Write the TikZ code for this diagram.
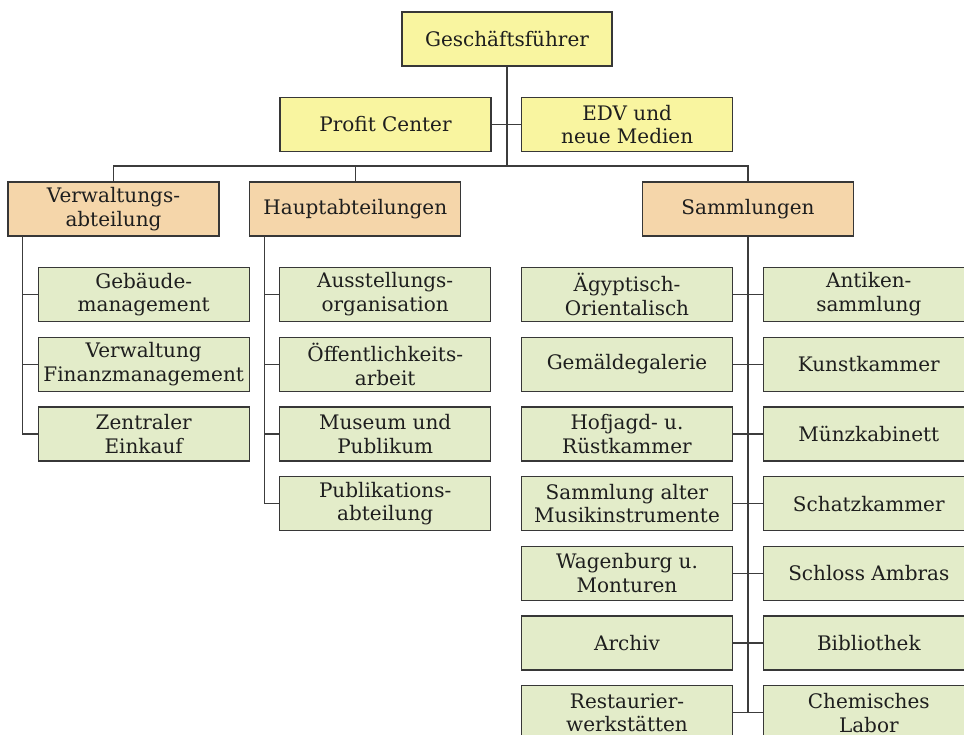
\documentclass[tikz,border=0pt]{standalone}
\usepackage{fontspec}
\setmainfont{DejaVu Serif}
\definecolor{boxline}{RGB}{55,55,55}
\definecolor{linkline}{RGB}{60,60,60}
\definecolor{topfill}{RGB}{249,245,160}
\definecolor{midfill}{RGB}{245,214,170}
\definecolor{leaffill}{RGB}{227,236,201}
\definecolor{txt}{RGB}{30,30,30}
\tikzset{
  orgbox/.style={draw=boxline, line width=1.3pt, minimum width=211pt, minimum height=54pt,
    inner sep=0pt, align=center, text=txt, font=\fontsize{20}{23.8}\selectfont},
  topbox/.style={orgbox, fill=topfill},
  midbox/.style={orgbox, fill=midfill},
  leafbox/.style={orgbox, fill=leaffill},
  link/.style={draw=linkline, line width=1.2pt}
}
\begin{document}
\begin{tikzpicture}[x=1pt,y=-1pt]
\useasboundingbox (0,0) rectangle (964,734);
\clip (0,0) rectangle (964,734);
\fill[white] (0,0) rectangle (964,734);
% top
\node[topbox, minimum width=210pt] (gf) at (507,39) {Geschäftsführer};
\node[topbox] (pc) at (385.5,124.5) {Profit Center};
\node[topbox] (edv) at (627.2,124.5) {EDV und\\neue Medien};
% middle
\node[midbox] (va) at (113.5,209) {Verwaltungs-\\abteilung};
\node[midbox] (ha) at (355.3,209) {Hauptabteilungen};
\node[midbox] (sa) at (748,209) {Sammlungen};
% rows
\def\ra{294.5}\def\rb{364.2}\def\rc{433.9}\def\rd{503.6}\def\re{573.3}\def\rf{643}\def\rg{712.7}
% Verwaltung children
\node[leafbox] (v1) at (143.7,\ra) {Gebäude-\\management};
\node[leafbox] (v2) at (143.7,\rb) {Verwaltung\\Finanzmanagement};
\node[leafbox] (v3) at (143.7,\rc) {Zentraler\\Einkauf};
% Haupt children
\node[leafbox] (h1) at (385.2,\ra) {Ausstellungs-\\organisation};
\node[leafbox] (h2) at (385.2,\rb) {Öffentlichkeits-\\arbeit};
\node[leafbox] (h3) at (385.2,\rc) {Museum und\\Publikum};
\node[leafbox] (h4) at (385.2,\rd) {Publikations-\\abteilung};
% Sammlungen children
\node[leafbox] (l1) at (627,\ra) {Ägyptisch-\\Orientalisch};
\node[leafbox] (l2) at (627,\rb) {Gemäldegalerie};
\node[leafbox] (l3) at (627,\rc) {Hofjagd- u.\\Rüstkammer};
\node[leafbox] (l4) at (627,\rd) {Sammlung alter\\Musikinstrumente};
\node[leafbox] (l5) at (627,\re) {Wagenburg u.\\Monturen};
\node[leafbox] (l6) at (627,\rf) {Archiv};
\node[leafbox] (l7) at (627,\rg) {Restaurier-\\werkstätten};
\node[leafbox] (s1) at (868.8,\ra) {Antiken-\\sammlung};
\node[leafbox] (s2) at (868.8,\rb) {Kunstkammer};
\node[leafbox] (s3) at (868.8,\rc) {Münzkabinett};
\node[leafbox] (s4) at (868.8,\rd) {Schatzkammer};
\node[leafbox] (s5) at (868.8,\re) {Schloss Ambras};
\node[leafbox] (s6) at (868.8,\rf) {Bibliothek};
\node[leafbox] (s7) at (868.8,\rg) {Chemisches\\Labor};
% connectors
\coordinate (bus) at (507,166);
\coordinate (vt) at (22.7,236);
\coordinate (ht) at (264.3,236);
\draw[link] (gf.south) -- (bus);
\draw[link] (pc.east) -- (edv.west);
\draw[link] (va.north) |- (bus) -| (sa.north);
\draw[link] (ha.north) -- (ha.north |- bus);
\draw[link] (vt) |- (v3.west);
\draw[link] (vt |- v1.west) -- (v1.west);
\draw[link] (vt |- v2.west) -- (v2.west);
\draw[link] (ht) |- (h4.west);
\draw[link] (ht |- h1.west) -- (h1.west);
\draw[link] (ht |- h2.west) -- (h2.west);
\draw[link] (ht |- h3.west) -- (h3.west);
\draw[link] (sa.south) -- (sa.south |- l7.east);
\foreach \i in {1,...,7}{\draw[link] (l\i.east) -- (s\i.west);}
\end{tikzpicture}
\end{document}
